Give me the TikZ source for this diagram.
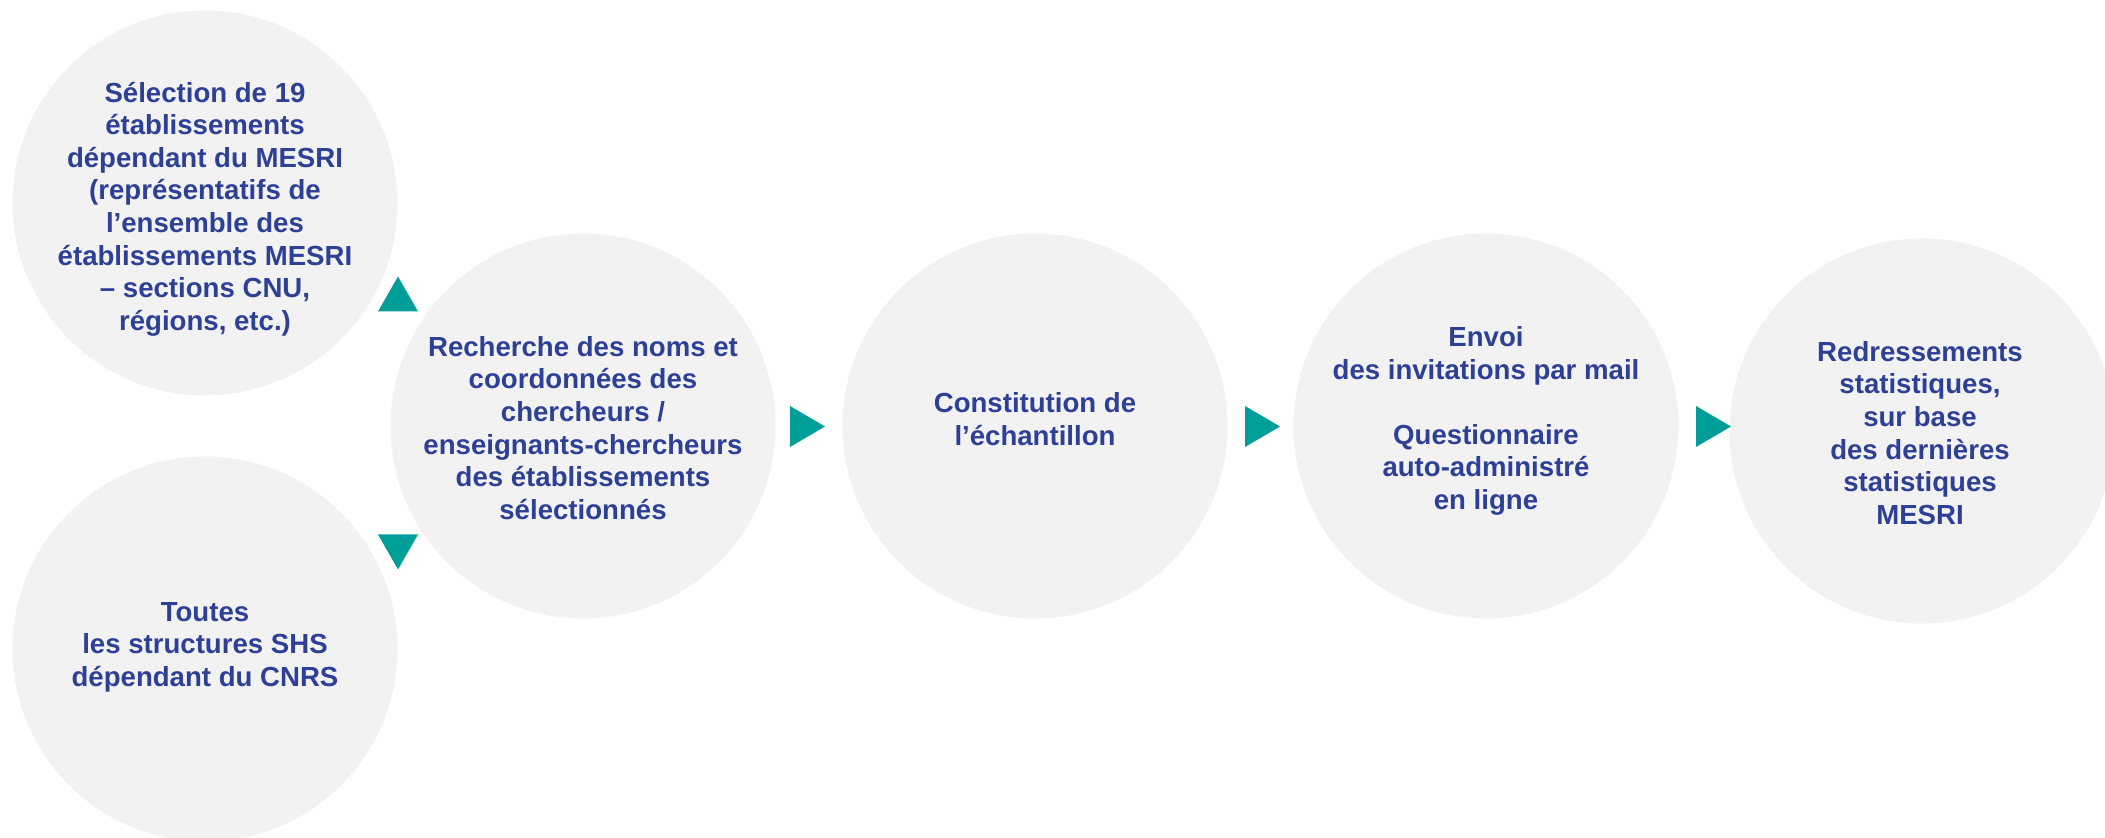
\documentclass[tikz,border=0pt]{standalone}
\usepackage{fontspec}
\setmainfont{Liberation Sans}
\definecolor{circfill}{RGB}{242,242,242}
\definecolor{txtblue}{RGB}{46,64,150}
\definecolor{teal}{RGB}{0,158,152}
\begin{document}
\begin{tikzpicture}[x=0.5pt,y=-0.5pt,
  bubble/.style={circle,fill=circfill,draw=none,minimum size=192.5pt,inner sep=0pt},
  btext/.style={align=center,text=txtblue,inner sep=0pt,font=\fontsize{13.8}{16.3}\selectfont\bfseries},
  tri/.style={fill=teal,draw=none}]
\useasboundingbox (0,0) rectangle (2105,838);
\clip (0,0) rectangle (2105,838);
% circles
\node[bubble] (c1) at (205,203) {};
\node[bubble] (c2) at (205,649) {};
\node[bubble] (c3) at (583,426) {};
\node[bubble] (c4) at (1035,426) {};
\node[bubble] (c5) at (1486,426) {};
\node[bubble] (c6) at (1922,431) {};
% texts
\node[btext] (t1) at (205,209) {Sélection de 19\\établissements\\dépendant du MESRI\\(représentatifs de\\l’ensemble des\\établissements MESRI\\– sections CNU,\\régions, etc.)};
\node[btext] (t2) at (205,647) {Toutes\\les structures SHS\\dépendant du CNRS};
\node[btext] (t3) at (583,428) {Recherche des noms et\\coordonnées des\\chercheurs /\\enseignants-chercheurs\\des établissements\\sélectionnés};
\node[btext] (t4) at (1035,419) {Constitution de\\l’échantillon};
\node[btext] (t5) at (1486,421) {Envoi\\des invitations par mail\\[16.3pt]Questionnaire\\auto-administré\\en ligne};
\node[btext] (t6) at (1920,433) {Redressements\\statistiques,\\sur base\\des dernières\\statistiques\\MESRI};
% triangles
\fill[tri] (378,311.5) -- (418,311.5) -- (398,276.5) -- cycle;
\fill[tri] (378,534.5) -- (418,534.5) -- (398,569.5) -- cycle;
\fill[tri] (790,406) -- (790,447) -- (825,426.5) -- cycle;
\fill[tri] (1245,406) -- (1245,447) -- (1280,426.5) -- cycle;
\fill[tri] (1696,406) -- (1696,447) -- (1731,426.5) -- cycle;
\end{tikzpicture}
\end{document}
